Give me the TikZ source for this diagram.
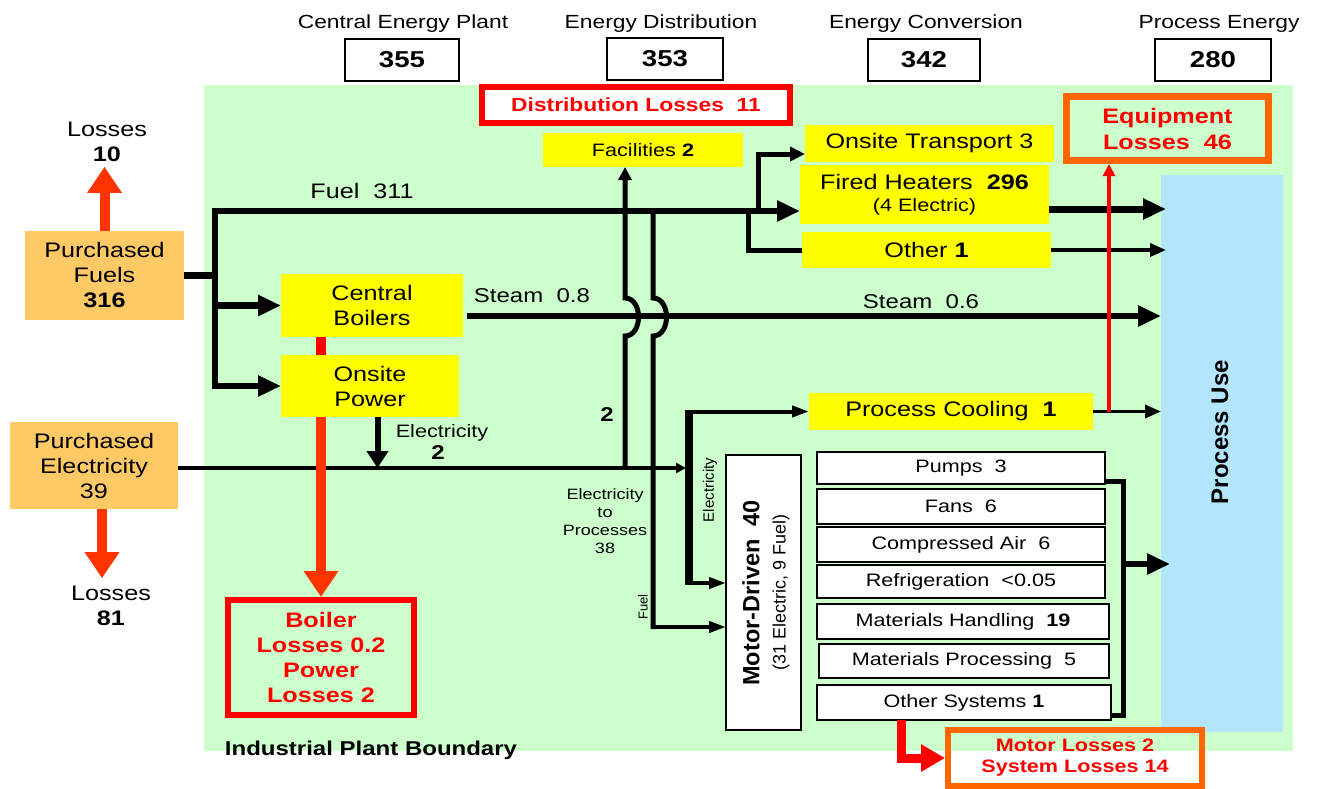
\documentclass[tikz,border=0pt]{standalone}
\usepackage{fontspec}
\setmainfont{Liberation Sans}[FakeStretch=1.2]
\newfontfamily\rotf{Liberation Sans}
\usetikzlibrary{arrows.meta}
\definecolor{bgreen}{HTML}{CCFFCC}
\definecolor{pblue}{HTML}{B3E5FC}
\definecolor{porange}{HTML}{FFC966}
\definecolor{yel}{HTML}{FFFF00}
\definecolor{lossred}{HTML}{FF3300}
\definecolor{lossor}{HTML}{FF6600}
\definecolor{txtred}{HTML}{FF0000}
\newcommand\fsz[2]{\fontsize{#1}{#2}\selectfont}
\tikzset{
  every node/.style={inner sep=0pt, outer sep=0pt, align=center},
  sz/.style 2 args={minimum width=#1, minimum height=#2},
  hdr/.style={font=\fsz{19}{22}},
  numbox/.style={draw, line width=2, fill=white, minimum height=42, font=\bfseries\fsz{23}{26}},
  ybox/.style={fill=yel, font=\fsz{21}{25}},
  wbox/.style={draw, line width=2, fill=white, font=\fsz{18}{21}},
  srcbox/.style={fill=porange, font=\fsz{21}{25}},
  redbox/.style={draw=txtred, line width=6, outer sep=3, text=txtred},
  orbox/.style={draw=lossor, line width=7, outer sep=3.5, text=txtred},
  lbl/.style={font=\fsz{20}{24}},
  flowA/.style={line width=6.5, -{Triangle[length=23pt,width=20pt]}},
  flowB/.style={line width=5, -{Triangle[length=15pt,width=14pt]}},
  flowC/.style={line width=3.5, -{Triangle[length=16pt,width=13pt]}},
  flowE/.style={line width=4, -{Triangle[length=17pt,width=11pt]}},
  lossarrow/.style={color=lossred, line width=10, -{Triangle[length=26pt,width=33pt]}},
}
\begin{document}
\begin{tikzpicture}[x=1pt,y=-1pt]
\useasboundingbox (0,0) rectangle (1318,788);
\fill[white] (0,0) rectangle (1318,788);
\fill[bgreen] (204,85) rectangle (1293,751);

% headers
\node[hdr] (hcep) at (403,24) {Central Energy Plant};
\node[hdr] (hed) at (661,24) {Energy Distribution};
\node[hdr] (hec) at (926,24) {Energy Conversion};
\node[hdr] (hpe) at (1219,24) {Process Energy};
\node[numbox, minimum width=114] (n355) at (402,60) {355};
\node[numbox, minimum width=116] (n353) at (665,59) {353};
\node[numbox, minimum width=112] (n342) at (924,60) {342};
\node[numbox, minimum width=116] (n280) at (1213,60) {280};

% process use
\node[fill=pblue, sz={122}{557}] (pu) at (1222,453.5) {};
\node[rotate=90, font=\rotf\bfseries\fsz{24}{28}] (put) at (1220,432) {Process Use};

% sources
\node[srcbox, sz={159}{89}] (pf) at (104.5,275.5) {Purchased\\Fuels\\\textbf{316}};
\node[srcbox, sz={168}{87}] (pe) at (94,465.5) {Purchased\\Electricity\\39};
\node[font=\fsz{21}{25}, inner ysep=5] (l10) at (107,142) {Losses\\\textbf{10}};
\node[font=\fsz{21}{25}, inner ysep=8] (l81) at (111,606) {Losses\\\textbf{81}};

% central plant
\node[ybox, sz={182}{63}] (cb) at (372,305.5) {Central\\Boilers};
\node[ybox, sz={178}{62}] (op) at (370,386) {Onsite\\Power};
\node[redbox, sz={186}{115}, font=\bfseries\fsz{21}{25}] (bl) at (321,657.5) {Boiler\\Losses 0.2\\Power\\Losses 2};

% distribution
\node[redbox, fill=white, sz={308}{36}, font=\bfseries\fsz{19}{22}] (dl) at (636,105) {Distribution Losses\ \ 11};
\node[ybox, sz={200}{34}, font=\fsz{18}{21}] (fac) at (643,150) {Facilities \textbf{2}};

% conversion
\node[ybox, sz={249}{37}] (ot) at (929.5,143.5) {Onsite Transport 3};
\node[ybox, sz={249}{59}] (fh) at (924.5,194.5) {Fired Heaters\ \ \textbf{296}\\[-3pt]{\fsz{18}{21}(4 Electric)}};
\node[ybox, sz={249}{36}] (ot2) at (926.5,250) {Other \textbf{1}};
\node[orbox, sz={202}{64}, font=\bfseries\fsz{21}{26}] (eq) at (1167.5,128.5) {Equipment\\Losses\ \ 46};
\node[ybox, sz={284}{37}] (pc) at (951,411.5) {Process Cooling\ \ \textbf{1}};

% motor driven
\node[draw, line width=2, fill=white, sz={75}{275}] (md) at (763.5,592.5) {};
\node[rotate=90, font=\rotf\bfseries\fsz{23.5}{26}] (mdt) at (751,593) {Motor-Driven\ \ 40};
\node[rotate=90, font=\rotf\fsz{18}{21}] (mds) at (781,592) {(31 Electric, 9 Fuel)};

\node[wbox, sz={288}{32}] (pu1) at (961,468) {Pumps\ \ 3};
\node[wbox, sz={288}{35}] (fans) at (961,506.5) {Fans\ \ 6};
\node[wbox, sz={288}{35}] (ca) at (961,544.5) {Compressed Air\ \ 6};
\node[wbox, sz={288}{33}] (refr) at (961,581.5) {Refrigeration\ \ <0.05};
\node[wbox, sz={292}{35}] (mh) at (963,621.5) {Materials Handling\ \ \textbf{19}};
\node[wbox, sz={290}{34}] (mp) at (964,661) {Materials Processing\ \ 5};
\node[wbox, sz={294}{35}] (os) at (964,702.5) {Other Systems \textbf{1}};
\node[orbox, line width=6, outer sep=3, sz={254}{56}, font=\bfseries\fsz{18}{21}] (ml) at (1075,758) {Motor Losses 2\\System Losses 14};

% labels
\node[font=\fsz{21}{25}] (fuellbl) at (362,191) {Fuel\ \ 311};
\node[lbl] (st1) at (532,296) {Steam\ \ 0.8};
\node[lbl] (st2) at (921,302) {Steam\ \ 0.6};
\node[font=\bfseries\fsz{20}{24}] (two1) at (607,415) {2};
\node[font=\fsz{18}{21}] (el1) at (442,433) {Electricity};
\node[font=\bfseries\fsz{20}{24}] (two2) at (438,453) {2};
\node[font=\fsz{15}{18}] (etp) at (605,521) {Electricity\\to\\Processes\\38};
\node[rotate=90, font=\rotf\fsz{15}{18}] (elr) at (710,490) {Electricity};
\node[rotate=90, font=\rotf\fsz{13}{16}] (fur) at (643,607) {Fuel};
\node[font=\bfseries\fsz{20}{24}] (ipb) at (371,750) {Industrial Plant Boundary};

% ---- connectors ----
% fuel
\coordinate (fTop) at (215,211);
\draw[line width=6.5] (pf.east) -- (pf.east -| fTop);
\draw[flowA] (fTop |- op.west) -- (fTop) -- (fTop -| fh.west);
\draw[flowA] (fTop |- cb.west) -- (cb.west);
\draw[flowA] (fTop) |- (op.west);
% fuel branches
\coordinate (b1) at (758,211);
\coordinate (b2) at (748,211);
\draw[flowB] (b1) |- ([yshift=-10.5]ot.west);
\draw[line width=5] (b2) |- (ot2.west);
% outputs to process use
\coordinate (fhOut) at ([yshift=-14.5]fh.east);
\draw[flowA, line width=7] (fhOut) -- ([xshift=5]fhOut -| pu.west);
\draw[flowC] (ot2.east) -- ([xshift=5]ot2.east -| pu.west);
\coordinate (stOut) at ([yshift=-10.5,xshift=4]cb.east);
\draw[flowA] (stOut) -- (stOut -| pu.west);
% electricity
\coordinate (eIn) at ([yshift=-2.5]pe.east);
\coordinate (evTop) at (689,411.5);
\coordinate (evBot) at (689,583);
\draw[line width=4, -{Triangle[length=10pt,width=10pt]}] (eIn) -- ([xshift=-3]eIn -| evTop);
\draw[line width=7.5] ([yshift=2]evTop) -- ([yshift=-2]evBot);
\draw[flowE] (evTop) -- (pc.west);
\draw[flowE] (evBot) -- ([yshift=9.5]md.west);
% onsite power electricity
\draw[line width=6, -{Triangle[length=17pt,width=21pt]}] ([xshift=7.5]op.south) -- ([xshift=7.5]op.south |- eIn);
% facilities (hop over steam)
\coordinate (e1) at (625,468);
\draw[line width=5, -{Triangle[length=13pt,width=13pt]}] (e1) -- (625,336) .. controls (643,336) and (643,298) .. (625,298) -- (fac.south -| e1);
% fuel to motor-driven (hop over steam)
\coordinate (vf) at (653,211);
\coordinate (fm) at (653,627);
\draw[line width=5] (vf) -- (653,298) .. controls (671,298) and (671,336) .. (653,336) -- ([yshift=-2]fm);
\draw[flowE] ([xshift=-2.5]fm) -- (fm -| md.west);
% process cooling
\draw[flowC] (pc.east) -- (pc.east -| pu.west);
\draw[txtred, line width=3.5, -{Triangle[length=12pt,width=12pt]}] ([xshift=16]pc.east) -- ([xshift=16]pc.east |- eq.south);
% systems bracket
\coordinate (br) at (1123,564);
\draw[line width=5] ([yshift=-13]pu1.east) -| (br) |- ([yshift=-12.5]os.east);
\draw[flowA] (br) -- ([xshift=9]br -| pu.west);
% red losses
\draw[txtred, line width=9, -{Triangle[length=24pt,width=26pt]}] ([xshift=-63]os.south) |- (ml.west);
\draw[txtred, line width=10] (cb.south -| bl.north) -- (op.north -| bl.north);
\draw[lossarrow] (op.south -| bl.north) -- (bl.north);
\draw[lossarrow] (pf.north) -- (pf.north |- l10.south);
\draw[lossarrow] ([xshift=8]pe.south) -- ([xshift=8]pe.south |- l81.north);
\end{tikzpicture}
\end{document}
